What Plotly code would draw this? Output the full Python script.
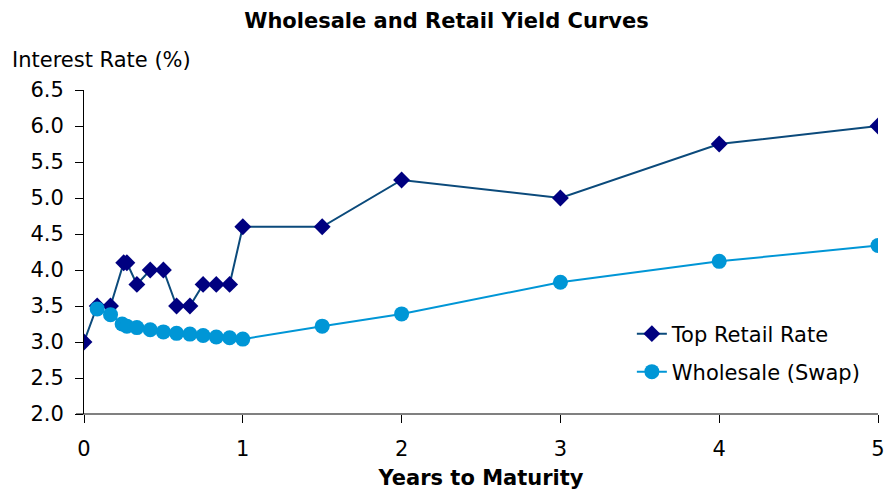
import plotly.graph_objects as go

# Maturities (years) and rates (%)
retail_years = [0, 0.083, 0.167, 0.25, 0.27, 0.333, 0.417, 0.5, 0.583, 0.667,
                0.75, 0.833, 0.917, 1, 1.5, 2, 3, 4, 5]
retail_rates = [3.0, 3.5, 3.5, 4.1, 4.1, 3.8, 4.0, 4.0, 3.5, 3.5,
                3.8, 3.8, 3.8, 4.6, 4.6, 5.25, 5.0, 5.75, 6.0]

wholesale_years = [0.083, 0.167, 0.24, 0.27, 0.333, 0.417, 0.5, 0.583, 0.667,
                   0.75, 0.833, 0.917, 1, 1.5, 2, 3, 4, 5]
wholesale_rates = [3.46, 3.38, 3.25, 3.22, 3.20, 3.17, 3.14, 3.12, 3.11,
                   3.09, 3.07, 3.06, 3.04, 3.22, 3.39, 3.83, 4.12, 4.34]

x_ticks = [0, 1, 2, 3, 4, 5]
y_ticks = [2.0, 2.5, 3.0, 3.5, 4.0, 4.5, 5.0, 5.5, 6.0, 6.5]

FONT = "DejaVu Sans"
FS = 21      # regular text
FS_B = 21    # bold headings

fig = go.Figure()

fig.add_trace(go.Scatter(
    x=retail_years, y=retail_rates, mode="lines+markers",
    name="Top Retail Rate",
    line=dict(color="#0B4A7B", width=2),
    marker=dict(symbol="diamond", size=13, color="#000080"),
    legend="legend",
))
fig.add_trace(go.Scatter(
    x=wholesale_years, y=wholesale_rates, mode="lines+markers",
    name="Wholesale (Swap)",
    line=dict(color="#0096D6", width=2),
    marker=dict(symbol="circle", size=15, color="#0096D6"),
    legend="legend2",
))

legend_style = dict(
    font=dict(family=FONT, size=FS, color="#000000"),
    bgcolor="rgba(0,0,0,0)", xanchor="left", yanchor="middle",
)

fig.update_layout(
    width=893, height=490,
    margin=dict(l=84, r=15, t=90, b=76, autoexpand=False),
    paper_bgcolor="white", plot_bgcolor="white",
    font=dict(family=FONT, size=FS, color="#000000"),
    title=dict(text="<b>Wholesale and Retail Yield Curves</b>",
               x=0.5, xanchor="center", y=1 - 21 / 490, yanchor="middle",
               font=dict(family=FONT, size=FS_B, color="#000000")),
    xaxis=dict(range=[0, 5], tickvals=x_ticks, ticktext=[str(v) for v in x_ticks],
               showline=False, showgrid=False, zeroline=False, automargin=False,
               ticks="outside", ticklen=8, tickcolor="#000000", tickwidth=1,
               ticklabelstandoff=8,
               title=dict(text="<b>Years to Maturity</b>", standoff=10,
                          font=dict(family=FONT, size=FS_B))),
    yaxis=dict(range=[2, 6.5], tickvals=y_ticks, ticktext=[f"{v:.1f}" for v in y_ticks],
               showline=True, linecolor="#000000", linewidth=1,
               showgrid=False, zeroline=False, automargin=False,
               ticks="outside", ticklen=8, tickcolor="#000000", tickwidth=1,
               ticklabelstandoff=7),
    legend=dict(x=0.69, y=(334 - 90) / -324 + 1, **legend_style),
    legend2=dict(x=0.69, y=(372 - 90) / -324 + 1, **legend_style),
    showlegend=True,
)

# Horizontal axis line (gray), running slightly past the left axis
fig.add_shape(type="line", xref="paper", yref="paper",
              x0=-8 / 794, x1=1, y0=0, y1=0,
              line=dict(color="#808080", width=2), layer="below")

fig.add_annotation(text="Interest Rate (%)", xref="paper", yref="paper",
                   x=-74 / 794, y=(90 - 60) / 324 + 1, xanchor="left", yanchor="middle",
                   showarrow=False, font=dict(family=FONT, size=FS, color="#000000"))

fig.write_html("out.html")
